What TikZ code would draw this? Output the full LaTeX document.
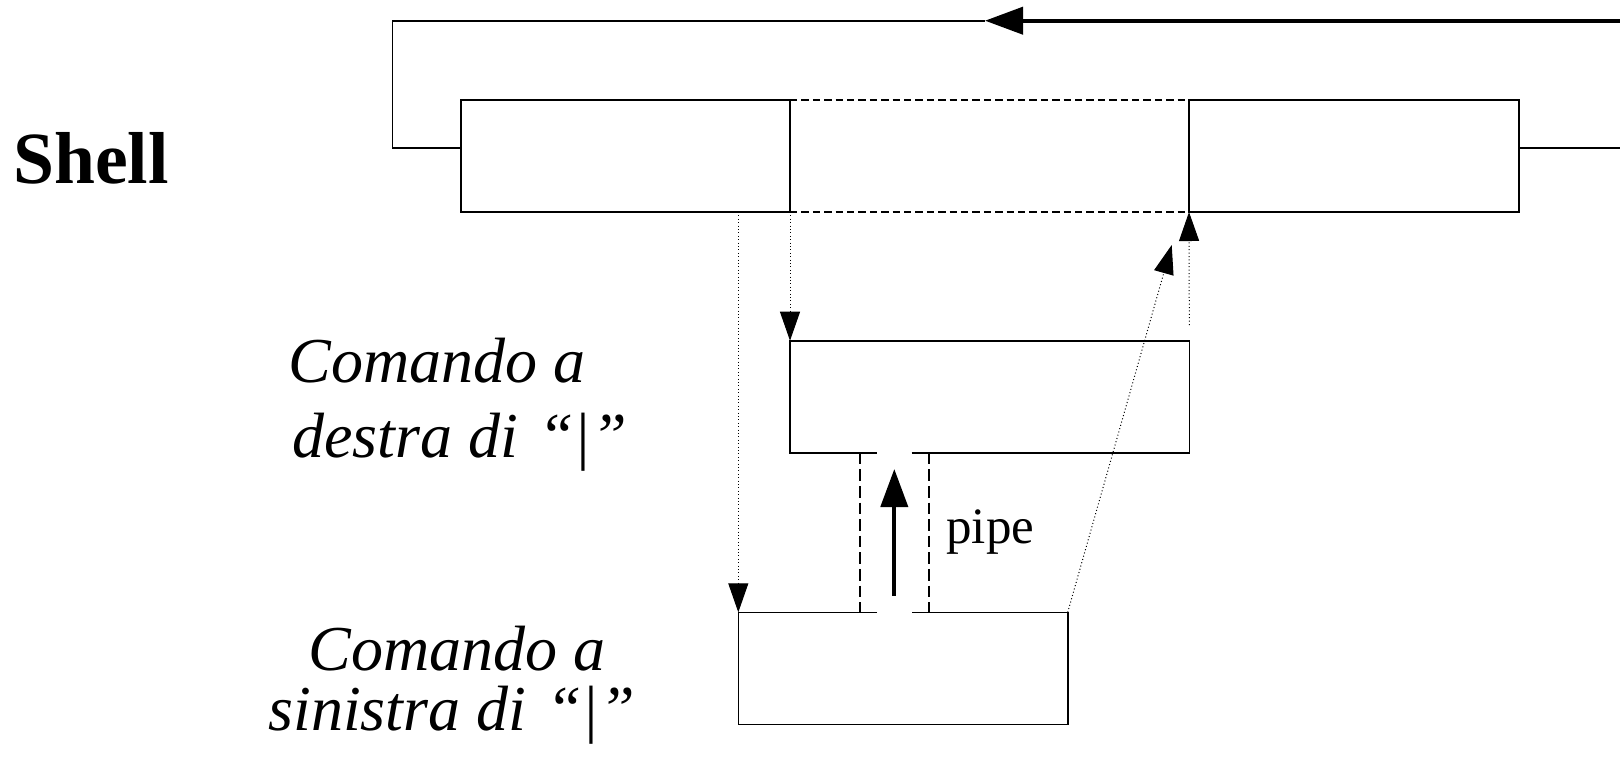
\documentclass[tikz,border=0pt]{standalone}
\usepackage{fontspec}
\setmainfont{Liberation Serif}
\usetikzlibrary{arrows.meta,calc}

\tikzset{
  frame/.style={rectangle, inner sep=0pt, outer sep=0pt},
  edge/.style={line width=0.8pt, line join=miter},
  seam/.style={line width=0.8pt, dash pattern=on 3.7pt off 2pt},
  pipewall/.style={line width=0.8pt, dash pattern=on 5.8pt off 2.5pt},
  flow/.style={line width=0.5pt, dash pattern=on 0.5pt off 1.2pt,
    -{Triangle[length=14.5pt,width=10pt]}},
  bigflow/.style={line width=2pt, -{Triangle[length=19pt,width=13.5pt]}},
  caption/.style={inner sep=0pt, anchor=base west, font=\fontsize{32}{38}\selectfont\itshape},
}

\begin{document}
\begin{tikzpicture}[x=0.5pt, y=-0.5pt]
  \useasboundingbox (0,0) rectangle (1620,756);

  % shell buffer: two solid cells with a dashed middle segment
  \node[frame, draw, edge, minimum width=164.5pt, minimum height=56pt] (shL) at (625.5,156) {};
  \node[frame, draw, edge, minimum width=165pt, minimum height=56pt] (shR) at (1354,156) {};
  \draw[seam] (shL.north east) -- (shR.north west);
  \draw[seam] (shL.south east) -- (shR.south west);

  % command processes
  \node[frame, minimum width=199.65pt, minimum height=56pt] (dR) at (989.65,396.7) {};
  \node[frame, minimum width=164.7pt, minimum height=56pt] (sL) at (903,668.3) {};

  % openings of the pipe in the two boxes
  \coordinate (gapL) at (877,0);
  \coordinate (gapR) at (911.7,0);
  \coordinate (wallL) at (860,0);
  \coordinate (wallR) at (929,0);

  \draw[edge] (gapR |- dR.south) -- (dR.south east) -- (dR.north east)
    -- (dR.north west) -- (dR.south west) -- (gapL |- dR.south);
  \draw[edge] (gapL |- sL.north) -- (sL.north west) -- (sL.south west)
    -- (sL.south east) -- (sL.north east) -- (gapR |- sL.north);

  % pipe walls and data direction
  \draw[pipewall] (wallL |- dR.south) -- (wallL |- sL.north);
  \draw[pipewall] (wallR |- dR.south) -- (wallR |- sL.north);
  \coordinate (pipeFrom) at (894.3,595.7);
  \coordinate (pipeTo) at (894.3,469);
  \draw[bigflow] (pipeFrom) -- (pipeTo);
  \node[inner sep=0pt, anchor=base west, font=\fontsize{25.5}{30}\selectfont] (pipeLbl) at (946,543) {pipe};

  % return path into the shell
  \coordinate (topR) at (1620,20.7);
  \coordinate (topTip) at (985,20.7);
  \coordinate (topL) at (392.6,20.7);
  \coordinate (outR) at (1620,148);
  \draw[bigflow] (topR) -- (topTip);
  \draw[edge] (topTip) -- (topL) |- ([yshift=4pt]shL.west);
  \draw[edge] ([yshift=4pt]shR.east) -- (outR);

  % shell spawning and collecting the commands
  \draw[flow] (shL.south east) -- (dR.north west);
  \draw[flow] (sL.north west |- shL.south) -- (sL.north west);
  \coordinate (diagTip) at (1171.7,245);
  \draw[flow] (sL.north east) -- (diagTip);
  \coordinate (riseFrom) at (1189.3,325);
  \draw[flow] (riseFrom) -- (shR.south west);

  % labels
  \node[inner sep=0pt, anchor=base west, font=\fontsize{36.8}{44}\selectfont\bfseries] (shellLbl) at (13,183) {Shell};
  \node[caption] (rTop) at (288,382) {Comando a};
  \node[caption] (rBot) at (292,457) {destra di \hspace{2pt}“|”};
  \node[caption] (lTop) at (308,670) {Comando a};
  \node[caption] (lBot) at (268,730) {sinistra di \hspace{2pt}“|”};
\end{tikzpicture}
\end{document}
